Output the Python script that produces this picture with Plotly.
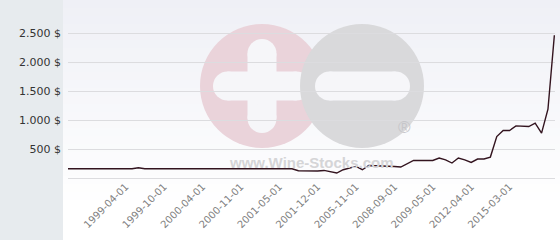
import plotly.graph_objects as go

# ---- data ----
values = (
    [160] * 11 + [178] + [160] * 24 +
    [126, 121, 114, 121, 131, 109, 86, 143, 166, 200,
     143, 217, 212, 212, 205, 200, 190, 250, 303, 303,
     303, 303, 345, 315, 259, 345, 315, 269, 328, 328,
     362, 717, 821, 821, 902, 900, 890, 948, 776, 1190,
     2470]
)
tick_labels = ["1999-04-01", "1999-10-01", "2000-04-01", "2000-11-01", "2001-05-01",
               "2001-12-01", "2005-11-01", "2008-09-01", "2009-05-01", "2012-04-01",
               "2015-03-01"]
first_label_index = 9
label_step = 6
y_ticks = [500, 1000, 1500, 2000, 2500]
y_tick_text = ["500 $", "1.000 $", "1.500 $", "2.000 $", "2.500 $"]

x_index = list(range(len(values)))
tick_index = [first_label_index + label_step * i for i in range(len(tick_labels))]

W, H = 560, 240
ML, MR, MT, MB = 68, 5, 19, 62
PW, PH = W - ML - MR, H - MT - MB


def px(x):
    return (x - ML) / PW


def py(y):
    return (H - MB - y) / PH


shapes = []
# background gradient bands
n = 30
for i in range(n):
    t = i / (n - 1)
    c0, c1 = (239, 240, 246), (255, 255, 255)
    col = tuple(round(a + (b - a) * min(1, t * 1.15)) for a, b in zip(c0, c1))
    shapes.append(dict(type="rect", xref="paper", yref="paper", layer="below",
                       x0=px(0), x1=px(W), y0=py(i * H / n), y1=py((i + 1) * H / n + 1),
                       fillcolor="rgb(%d,%d,%d)" % col, line_width=0))
# left panel
shapes.append(dict(type="rect", xref="paper", yref="paper", layer="below",
                   x0=px(0), x1=px(63), y0=py(0), y1=py(H),
                   fillcolor="#e7ebee", line_width=0))


def circle(cx, cy, r, color):
    return dict(type="circle", xref="paper", yref="paper", layer="below",
                x0=px(cx - r), x1=px(cx + r), y0=py(cy + r), y1=py(cy - r),
                fillcolor=color, line_width=0)


def rect(x0, y0, x1, y1, color):
    return dict(type="rect", xref="paper", yref="paper", layer="below",
                x0=px(x0), x1=px(x1), y0=py(y1), y1=py(y0),
                fillcolor=color, line_width=0)


def bar_h(xa, xb, cy, th, color):
    r = th / 2
    return [rect(xa + r, cy - r, xb - r, cy + r, color),
            circle(xa + r, cy, r, color), circle(xb - r, cy, r, color)]


def bar_v(cx, ya, yb, th, color):
    r = th / 2
    return [rect(cx - r, ya + r, cx + r, yb - r, color),
            circle(cx, ya + r, r, color), circle(cx, yb - r, r, color)]


pink, grey, bg = "#ead3da", "#d9d9db", "#f6f6f9"
shapes.append(circle(262, 86, 62, pink))
shapes += bar_h(213, 311, 86, 29, bg)
shapes += bar_v(262, 39, 133, 29, bg)
shapes.append(circle(362, 86, 62, grey))
shapes += bar_h(315, 410, 86, 29, bg)

fig = go.Figure()
fig.add_trace(go.Scatter(x=x_index, y=values, mode="lines",
                         line=dict(color="#33141f", width=1.4),
                         hoverinfo="skip", showlegend=False))

fig.update_layout(
    width=W, height=H,
    margin=dict(l=ML, r=MR, t=MT, b=MB, pad=0),
    paper_bgcolor="white",
    plot_bgcolor="rgba(0,0,0,0)",
    shapes=shapes,
    showlegend=False,
    annotations=[
        dict(text="<b>www.Wine-Stocks.com</b>", xref="paper", yref="paper",
             x=px(311), y=py(162), showarrow=False, yanchor="middle",
             font=dict(family="Liberation Sans", size=15, color="#d5d5d7")),
        dict(text="®", xref="paper", yref="paper", x=px(413), y=py(139),
             showarrow=False, font=dict(family="Liberation Sans", size=17, color="#c6c6ca")),
    ],
)
fig.update_xaxes(
    range=[0, len(values) - 1 + 0.1],
    tickmode="array", tickvals=tick_index, ticktext=tick_labels,
    tickangle=-45, tickfont=dict(family="DejaVu Sans", size=10, color="#808080"),
    showgrid=False, zeroline=False, showline=False, ticks="",
)
fig.update_yaxes(
    range=[0, 2750],
    tickmode="array", tickvals=y_ticks, ticktext=y_tick_text,
    tickfont=dict(family="DejaVu Sans", size=11, color="#333333"),
    showgrid=True, gridcolor="#dcdcdf", gridwidth=1,
    zeroline=True, zerolinecolor="#dcdcdf", zerolinewidth=1,
    showline=False, ticks="", ticklabelstandoff=6,
)

fig.write_html("out.html")
